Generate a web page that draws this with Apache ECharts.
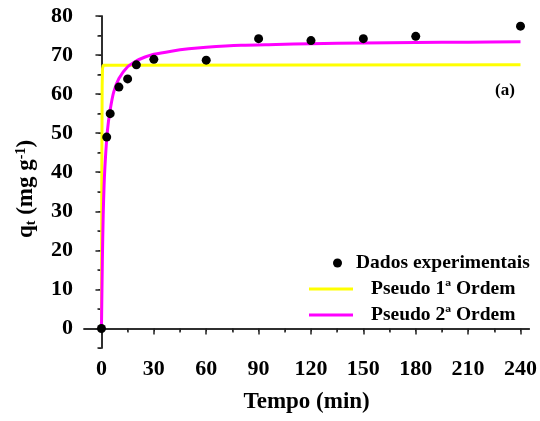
<!DOCTYPE html>
<html>
<head>
<meta charset="utf-8">
<script src="https://cdn.jsdelivr.net/npm/echarts@6/dist/echarts.min.js"></script>
<style>html,body{margin:0;padding:0;background:#fff}#c{width:540px;height:421px}</style>
</head>
<body>
<div id="c"></div>
<script>
// Experimental data
const expTime = [0, 3, 5, 10, 15, 20, 30, 60, 90, 120, 150, 180, 240];
const expQ    = [0, 49, 55, 61.8, 63.9, 67.5, 68.9, 68.7, 74.2, 73.7, 74.2, 74.8, 77.4];
// Pseudo 1st order
const pfoTime = [0, 0.2, 0.4, 0.6, 1, 2, 240];
const pfoQ    = [0, 40, 62, 66.5, 67.4, 67.5, 67.5];
// Pseudo 2nd order
const psoTime = [0, 0.5, 1, 1.5, 2, 3, 4, 5, 7, 10, 15, 20, 25, 30, 40, 50, 60, 80, 100, 120, 150, 180, 210, 240];
const psoQ    = [0, 17, 29, 36.5, 41.5, 48.5, 53, 56, 60.5, 64, 67, 68.5, 69.5, 70.2, 71, 71.6, 72, 72.5, 72.7, 72.9, 73.1, 73.2, 73.3, 73.4];
// Tick labels
const xTicks = [0, 30, 60, 90, 120, 150, 180, 210, 240];
const xMinor = [15, 45, 75, 105, 135, 165, 195, 225];
const yTicks = [0, 10, 20, 30, 40, 50, 60, 70, 80];
const yMinor = [-5, 5, 15, 25, 35, 45, 55, 65, 75];

const names = ['Dados experimentais', 'Pseudo 1ª Ordem', 'Pseudo 2ª Ordem'];
const FONT = '"Liberation Serif", "Times New Roman", serif';
const axisColor = '#222';

const zip = (a, b) => a.map((v, i) => [v, b[i]]);

const chart = echarts.init(document.getElementById('c'), null, {renderer: 'canvas'});
const baseX = {type: 'value', min: -10, max: 245, splitLine: {show: false}};
const baseY = {type: 'value', min: -5, max: 80, splitLine: {show: false}};
const legendText = {fontFamily: FONT, fontWeight: 'bold', fontSize: 19.5, color: '#000'};

chart.setOption({
  animation: false,
  backgroundColor: '#fff',
  grid: {left: 84, right: 5, top: 16, bottom: 73, containLabel: false},
  xAxis: [
    Object.assign({}, baseX, {
      position: 'bottom',
      name: 'Tempo (min)', nameLocation: 'middle', nameGap: 43,
      nameTextStyle: {fontFamily: FONT, fontWeight: 'bold', fontSize: 23, color: '#000'},
      axisLine: {show: true, lineStyle: {color: axisColor, width: 1.5}},
      axisTick: {show: true, customValues: xTicks, length: 6, lineStyle: {color: axisColor, width: 1.5}},
      axisLabel: {customValues: xTicks, margin: 10, fontFamily: FONT, fontWeight: 'bold', fontSize: 22, color: '#000'}
    }),
    Object.assign({}, baseX, {
      position: 'bottom',
      axisLine: {show: false},
      axisTick: {show: true, customValues: xMinor, length: 4, lineStyle: {color: axisColor, width: 1.5}},
      axisLabel: {show: false}
    }),
    Object.assign({}, baseX, {
      position: 'top',
      axisLine: {show: true, lineStyle: {color: axisColor, width: 1.5}},
      axisTick: {show: true, inside: true, customValues: xTicks.concat(xMinor), length: 3, lineStyle: {color: axisColor, width: 1}},
      axisLabel: {show: false}
    })
  ],
  yAxis: [
    Object.assign({}, baseY, {
      position: 'left',
      name: '{q|q}{sub|t}{n| (mg g}{sup|-1}{n|)}', nameLocation: 'middle', nameGap: 46, nameRotate: 90,
      nameTextStyle: {
        fontFamily: FONT, fontWeight: 'bold', fontSize: 23, color: '#000', padding: [0, 14, 0, 0],
        rich: {
          q: {fontFamily: FONT, fontWeight: 'bold', fontSize: 23, color: '#000'},
          n: {fontFamily: FONT, fontWeight: 'bold', fontSize: 23, color: '#000'},
          sub: {fontFamily: FONT, fontWeight: 'bold', fontSize: 14, color: '#000', verticalAlign: 'bottom', padding: [9, 0, 0, 0]},
          sup: {fontFamily: FONT, fontWeight: 'bold', fontSize: 14, color: '#000', verticalAlign: 'top', padding: [0, 0, 10, 0]}
        }
      },
      axisLine: {show: true, lineStyle: {color: axisColor, width: 1.5}},
      axisTick: {show: true, customValues: yTicks, length: 6, lineStyle: {color: axisColor, width: 1.5}},
      axisLabel: {customValues: yTicks, margin: 11, fontFamily: FONT, fontWeight: 'bold', fontSize: 22, color: '#000'}
    }),
    Object.assign({}, baseY, {
      position: 'left',
      axisLine: {show: false},
      axisTick: {show: true, customValues: yMinor, length: 4, lineStyle: {color: axisColor, width: 1.5}},
      axisLabel: {show: false}
    }),
    Object.assign({}, baseY, {
      position: 'right',
      axisLine: {show: true, lineStyle: {color: axisColor, width: 1.5}},
      axisTick: {show: true, inside: true, customValues: yTicks.concat(yMinor), length: 3, lineStyle: {color: axisColor, width: 1}},
      axisLabel: {show: false}
    })
  ],
  legend: [
    {data: [{name: names[0], icon: 'circle'}], left: 328, top: 248, itemWidth: 9, itemHeight: 9,
      textStyle: Object.assign({padding: [0, 0, 0, 9]}, legendText)},
    {data: [{name: names[1], icon: 'rect'}], left: 304, top: 274, itemWidth: 44, itemHeight: 3,
      textStyle: Object.assign({padding: [0, 0, 0, 13]}, legendText)},
    {data: [{name: names[2], icon: 'rect'}], left: 304, top: 300, itemWidth: 44, itemHeight: 3,
      textStyle: Object.assign({padding: [0, 0, 0, 13]}, legendText)}
  ],
  graphic: [
    {type: 'text', left: 495, top: 82, style: {text: '(a)', font: 'bold 17px ' + FONT, fill: '#000'}}
  ],
  series: [
    {name: names[1], type: 'line', data: zip(pfoTime, pfoQ), symbol: 'none', showSymbol: false,
      lineStyle: {color: '#ffff00', width: 3}, itemStyle: {color: '#ffff00'}, z: 2},
    {name: names[2], type: 'line', data: zip(psoTime, psoQ), symbol: 'none', showSymbol: false, smooth: 0.3,
      lineStyle: {color: '#ff00ff', width: 3}, itemStyle: {color: '#ff00ff'}, z: 3},
    {name: names[0], type: 'scatter', data: zip(expTime, expQ), symbol: 'circle', symbolSize: 9,
      itemStyle: {color: '#000', opacity: 1}, z: 4}
  ]
});
</script>
</body>
</html>
